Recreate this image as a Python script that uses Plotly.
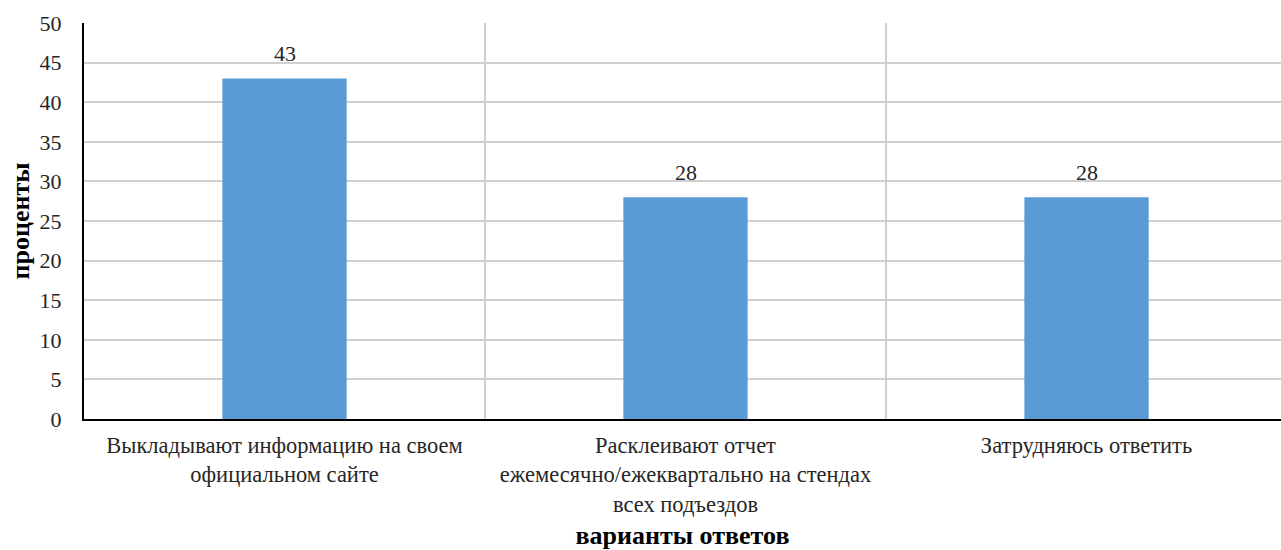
import plotly.graph_objects as go

categories = [
    "Выкладывают информацию на своем<br>официальном сайте",
    "Расклеивают отчет<br>ежемесячно/ежеквартально на стендах<br>всех подъездов",
    "Затрудняюсь ответить",
]
values = [43, 28, 28]
y_ticks = [0, 5, 10, 15, 20, 25, 30, 35, 40, 45, 50]

FONT = "Liberation Serif"
TXT = "#262626"

fig = go.Figure(
    go.Bar(
        x=categories,
        y=values,
        marker=dict(color="#5b9bd5", line=dict(width=0)),
        width=0.31,
        hoverinfo="x+y",
    )
)

for c, v in zip(categories, values):
    fig.add_annotation(
        x=c, y=v, text=str(v), showarrow=False, yanchor="bottom", yshift=10,
        font=dict(family=FONT, size=22, color=TXT),
    )

fig.update_layout(
    width=1281,
    height=550,
    margin=dict(l=84, r=0, t=23, b=131),
    paper_bgcolor="white",
    plot_bgcolor="white",
    font=dict(family=FONT, size=22, color=TXT),
    showlegend=False,
    xaxis=dict(
        type="category",
        range=[-0.5, 2.485],
        tickson="boundaries",
        showgrid=True,
        gridcolor="#d0d0d0",
        gridwidth=2,
        ticks="",
        showline=True,
        linecolor="black",
        linewidth=2,
        ticklabelstandoff=5,
        tickfont=dict(family=FONT, size=22.5, color=TXT),
        title=dict(text="<b>варианты ответов</b>", font=dict(family=FONT, size=26, color="black"), standoff=14),
        automargin=False,
    ),
    yaxis=dict(
        range=[0, 50],
        tickvals=y_ticks,
        showgrid=True,
        gridcolor="#d0d0d0",
        gridwidth=2,
        zeroline=False,
        showline=True,
        linecolor="black",
        linewidth=2,
        ticks="",
        ticklabelstandoff=16,
        tickfont=dict(family=FONT, size=22, color=TXT),
        title=dict(text="<b>проценты</b>", font=dict(family=FONT, size=26, color="black"), standoff=2),
        automargin=False,
    ),
)

fig.write_html("out.html")
